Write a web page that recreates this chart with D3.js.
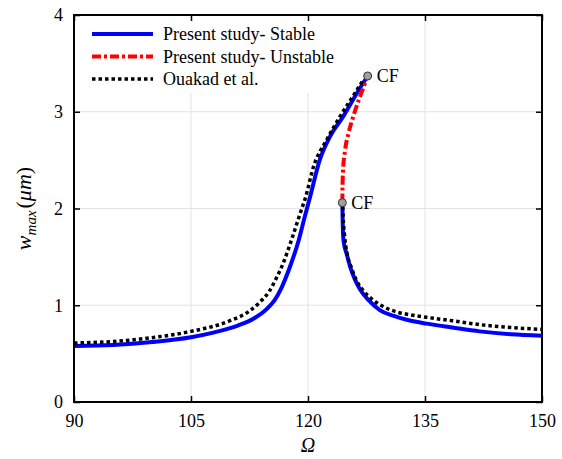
<!DOCTYPE html>
<html><head><meta charset="utf-8">
<script src="https://cdn.jsdelivr.net/npm/d3@7"></script>
<style>body{margin:0;background:#fff;} svg{display:block;}</style>
</head><body><div id="chart"></div>
<script>
// ---- data ----
const xTicks = [90, 105, 120, 135, 150];
const yTicks = [0, 1, 2, 3, 4];
const legendLabels = ["Present study- Stable", "Present study- Unstable", "Ouakad et al."];

const stableUpperOmega = [90, 95, 100, 105, 108, 111, 113, 114.7, 115.7, 116.6, 117.7, 118.8, 119.6, 120.3, 121.5, 122.8, 124.5, 126.4, 127.65];
const stableUpperW     = [0.58, 0.59, 0.62, 0.67, 0.72, 0.79, 0.86, 0.96, 1.05, 1.18, 1.40, 1.67, 1.92, 2.13, 2.50, 2.74, 2.95, 3.21, 3.37];

const stableLowerOmega = [124.4, 124.45, 124.55, 125.0, 125.4, 126.0, 126.7, 127.8, 129.2, 131.0, 132.65, 135.2, 138.5, 142.0, 146, 150];
const stableLowerW     = [2.06, 1.85, 1.67, 1.52, 1.40, 1.27, 1.16, 1.05, 0.95, 0.89, 0.85, 0.81, 0.77, 0.73, 0.70, 0.685];

const unstableOmega = [124.4, 124.42, 124.5, 124.75, 125.2, 125.8, 126.5, 127.2, 127.65];
const unstableW     = [2.06, 2.2, 2.4, 2.6, 2.78, 2.95, 3.12, 3.27, 3.37];

const ouakadUpperOmega = [90, 95, 100, 105, 110, 112.5, 113.8, 115.0, 116.0, 116.8, 117.9, 119.0, 119.7, 120.7, 122.4, 124.1, 126.0, 127.1];
const ouakadUpperW     = [0.61, 0.625, 0.665, 0.73, 0.84, 0.94, 1.03, 1.14, 1.29, 1.43, 1.68, 1.95, 2.12, 2.43, 2.71, 2.95, 3.19, 3.33];

const ouakadLowerOmega = [124.45, 124.5, 124.65, 125.0, 125.6, 126.2, 127.2, 128.4, 129.8, 131.4, 133.2, 135.2, 138.5, 142.0, 146, 150];
const ouakadLowerW     = [2.02, 1.92, 1.75, 1.54, 1.38, 1.26, 1.14, 1.05, 0.98, 0.93, 0.90, 0.875, 0.84, 0.80, 0.77, 0.75];

const cfOmega = [127.65, 124.4];
const cfW = [3.37, 2.06];
const cfLabels = ["CF", "CF"];

// ---- layout ----
const W = 562, H = 459;
const m = {left: 74, right: 20, top: 15, bottom: 57};
const font = "Liberation Serif";
const svg = d3.select("#chart").append("svg").attr("width", W).attr("height", H);
const x = d3.scaleLinear().domain([90, 150]).range([m.left, W - m.right]);
const y = d3.scaleLinear().domain([0, 4]).range([H - m.bottom, m.top]);

// grid
svg.append("g").selectAll("line").data(xTicks.slice(1, -1)).join("line")
  .attr("x1", d => x(d)).attr("x2", d => x(d)).attr("y1", y(0)).attr("y2", y(4))
  .attr("stroke", "#e3e3e3").attr("stroke-width", 1);
svg.append("g").selectAll("line").data(yTicks.slice(1, -1)).join("line")
  .attr("y1", d => y(d)).attr("y2", d => y(d)).attr("x1", x(90)).attr("x2", x(150))
  .attr("stroke", "#e3e3e3").attr("stroke-width", 1);

// legend background (covers grid)
svg.append("rect").attr("x", x(90) + 1).attr("y", y(4) + 1).attr("width", 272).attr("height", 77).attr("fill", "#fff");

// axes with inward ticks
function styleAxis(g) {
  g.attr("font-family", font).attr("font-size", 18);
  g.select(".domain").remove();
  g.selectAll("line").attr("stroke", "#000").attr("stroke-width", 1.5);
  g.selectAll("text").attr("font-family", font).attr("font-size", 18).attr("fill", "#000");
}
svg.append("g").attr("transform", `translate(0,${y(0)})`)
  .call(d3.axisBottom(x).tickValues(xTicks).tickSize(-6).tickPadding(12).tickFormat(d3.format("d")))
  .call(styleAxis);
svg.append("g").attr("transform", `translate(0,${y(4)})`)
  .call(d3.axisTop(x).tickValues(xTicks).tickSize(-6).tickFormat(""))
  .call(styleAxis);
svg.append("g").attr("transform", `translate(${x(90)},0)`)
  .call(d3.axisLeft(y).tickValues(yTicks).tickSize(-6).tickPadding(11).tickFormat(d3.format("d")))
  .call(styleAxis);
svg.append("g").attr("transform", `translate(${x(150)},0)`)
  .call(d3.axisRight(y).tickValues(yTicks).tickSize(-6).tickFormat(""))
  .call(styleAxis);

// curves
const line = d3.line().x(d => x(d[0])).y(d => y(d[1])).curve(d3.curveMonotoneX);
const zip = (a, b) => a.map((v, i) => [v, b[i]]);
const plot = (pts, color, dash, w) => svg.append("path").datum(pts).attr("d", line)
  .attr("fill", "none").attr("stroke", color).attr("stroke-width", w)
  .attr("stroke-dasharray", dash).attr("stroke-linecap", "butt");

plot(zip(stableUpperOmega, stableUpperW), "#0000ff", null, 4);
plot(zip(stableLowerOmega, stableLowerW), "#0000ff", null, 4);
plot(zip(unstableOmega, unstableW), "#ff0000", "9,3,3,3", 4);
plot(zip(ouakadUpperOmega, ouakadUpperW), "#000", "3.5,3", 3.5);
plot(zip(ouakadLowerOmega, ouakadLowerW), "#000", "3.5,3", 3.5);

// CF markers
const cf = zip(cfOmega, cfW);
svg.append("g").selectAll("circle").data(cf).join("circle")
  .attr("cx", d => x(d[0])).attr("cy", d => y(d[1])).attr("r", 4)
  .attr("fill", "#a0a0a0").attr("stroke", "#333").attr("stroke-width", 1);
svg.append("g").selectAll("text").data(cf).join("text")
  .attr("x", d => x(d[0]) + 9).attr("y", d => y(d[1]) + 6)
  .attr("font-family", font).attr("font-size", 18).text((d, i) => cfLabels[i]);

// frame
svg.append("rect").attr("x", x(90)).attr("y", y(4)).attr("width", x(150) - x(90)).attr("height", y(0) - y(4))
  .attr("fill", "none").attr("stroke", "#000").attr("stroke-width", 2);

// legend
const legStyles = [{c: "#0000ff", d: null, w: 4}, {c: "#ff0000", d: "9,3,3,3", w: 4}, {c: "#000", d: "3.5,3", w: 3.5}];
const lg = svg.append("g");
legendLabels.forEach((lab, i) => {
  const yy = 34 + i * 22.5;
  lg.append("line").attr("x1", 92).attr("x2", 153).attr("y1", yy).attr("y2", yy)
    .attr("stroke", legStyles[i].c).attr("stroke-width", legStyles[i].w).attr("stroke-dasharray", legStyles[i].d);
  lg.append("text").attr("x", 163).attr("y", yy + 6).attr("font-family", font).attr("font-size", 18).text(lab);
});

// axis labels
svg.append("text").attr("x", x(120)).attr("y", 452).attr("text-anchor", "middle")
  .attr("font-family", font).attr("font-size", 20).attr("font-style", "italic").text("Ω");
const yl = svg.append("text").attr("transform", `translate(31,${y(2)}) rotate(-90)`).attr("text-anchor", "middle")
  .attr("font-family", font).attr("font-size", 22);
yl.append("tspan").attr("font-style", "italic").text("w");
yl.append("tspan").attr("font-style", "italic").attr("font-size", 15).attr("dy", 5).text("max");
yl.append("tspan").attr("dy", -5).attr("dx", 2).text("(");
yl.append("tspan").attr("font-style", "italic").text("μm");
yl.append("tspan").text(")");
</script></body></html>
